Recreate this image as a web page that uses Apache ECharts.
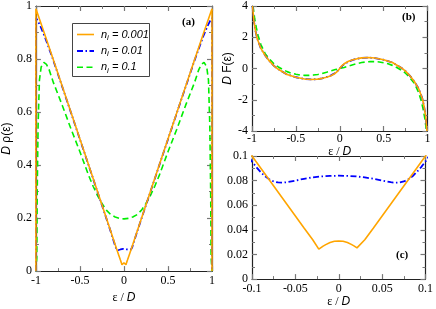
<!DOCTYPE html>
<html><head><meta charset="utf-8">
<script src="https://cdn.jsdelivr.net/npm/echarts@6/dist/echarts.min.js"></script>
<style>html,body{margin:0;padding:0;background:#fff}#c{width:436px;height:309px}</style>
</head><body><div id="c"></div>
<script>
// ---------- data ----------
const seriesNames = ['n_i = 0.001', 'n_i = 0.01', 'n_i = 0.1'];
const legendValues = ['0.001', '0.01', '0.1'];
const colors = ['#ffa500', '#0000ff', '#00ee00'];

// Panel (a)/(c): D rho(eps)
const epsO = [-1, -1, -0.9, -0.8, -0.6, -0.4, -0.2, -0.1, -0.08, -0.06, -0.04, -0.03, -0.023, -0.021, -0.018, -0.015, -0.01, -0.005, 0,
  0.005, 0.01, 0.015, 0.018, 0.021, 0.023, 0.03, 0.04, 0.06, 0.08, 0.1, 0.2, 0.4, 0.6, 0.8, 0.9, 1, 1];
const rhoO = [0, 0.99, 0.893, 0.795, 0.597, 0.399, 0.2, 0.1, 0.0805, 0.061, 0.0415, 0.032, 0.0243, 0.0254, 0.0268, 0.028, 0.0297, 0.0307, 0.031,
  0.0307, 0.0297, 0.028, 0.0268, 0.0254, 0.0243, 0.032, 0.0415, 0.061, 0.0805, 0.1, 0.2, 0.399, 0.597, 0.795, 0.893, 0.99, 0];

const epsB = [-1, -1, -0.98, -0.95, -0.9, -0.8, -0.6, -0.4, -0.2, -0.15, -0.1, -0.095, -0.09, -0.085, -0.08, -0.075, -0.07, -0.065, -0.06, -0.05, -0.04, -0.03, -0.02, -0.01, 0,
  0.01, 0.02, 0.03, 0.04, 0.05, 0.06, 0.065, 0.07, 0.075, 0.08, 0.085, 0.09, 0.095, 0.1, 0.15, 0.2, 0.4, 0.6, 0.8, 0.9, 0.95, 0.98, 1, 1];
const rhoB = [0, 0.955, 0.945, 0.925, 0.885, 0.793, 0.596, 0.398, 0.199, 0.149, 0.0955, 0.091, 0.087, 0.0835, 0.081, 0.0793, 0.0785, 0.0783, 0.0787, 0.08, 0.0815, 0.0826, 0.0834, 0.0838, 0.084,
  0.0838, 0.0834, 0.0826, 0.0815, 0.08, 0.0787, 0.0783, 0.0785, 0.0793, 0.081, 0.0835, 0.087, 0.091, 0.0955, 0.149, 0.199, 0.398, 0.596, 0.793, 0.885, 0.925, 0.945, 0.955, 0];

const epsG = [-1, -0.99, -0.985, -0.975, -0.96, -0.94, -0.91, -0.88, -0.85, -0.8, -0.7, -0.6, -0.5, -0.4, -0.35, -0.3, -0.25, -0.2, -0.15, -0.1, -0.05, 0,
  0.05, 0.1, 0.15, 0.2, 0.25, 0.3, 0.35, 0.4, 0.5, 0.6, 0.7, 0.8, 0.85, 0.88, 0.91, 0.94, 0.96, 0.975, 0.985, 0.99, 1];
const rhoG = [0, 0.05, 0.3, 0.55, 0.72, 0.77, 0.787, 0.78, 0.76, 0.71, 0.625, 0.535, 0.45, 0.36, 0.32, 0.285, 0.255, 0.23, 0.213, 0.204, 0.199, 0.197,
  0.199, 0.204, 0.213, 0.23, 0.255, 0.285, 0.32, 0.36, 0.45, 0.535, 0.625, 0.71, 0.76, 0.78, 0.787, 0.77, 0.72, 0.55, 0.3, 0.05, 0];

// Panel (b): D F(eps)
const epsF = [-0.993, -0.98, -0.96, -0.94, -0.92, -0.9, -0.85, -0.8, -0.75, -0.7, -0.6, -0.5, -0.4, -0.33, -0.25, -0.2, -0.15, -0.1, -0.05, -0.02, 0,
  0.02, 0.05, 0.1, 0.15, 0.2, 0.25, 0.33, 0.4, 0.5, 0.6, 0.7, 0.75, 0.8, 0.85, 0.9, 0.92, 0.94, 0.96, 0.98, 0.993];
const FO = [4.0, 3.1, 2.4, 1.9, 1.6, 1.3, 0.83, 0.47, 0.17, -0.05, -0.38, -0.56, -0.67, -0.7, -0.68, -0.63, -0.56, -0.46, -0.3, -0.15, 0,
  0.15, 0.3, 0.46, 0.56, 0.63, 0.68, 0.7, 0.67, 0.56, 0.38, 0.05, -0.17, -0.47, -0.83, -1.3, -1.6, -1.9, -2.4, -3.1, -4.0];
const FB = [4.0, 3.1, 2.4, 1.9, 1.6, 1.3, 0.83, 0.47, 0.17, -0.05, -0.38, -0.56, -0.67, -0.7, -0.68, -0.63, -0.55, -0.44, -0.28, -0.12, 0,
  0.12, 0.28, 0.44, 0.55, 0.63, 0.68, 0.7, 0.67, 0.56, 0.38, 0.05, -0.17, -0.47, -0.83, -1.3, -1.6, -1.9, -2.4, -3.1, -4.0];
const epsGF = [-0.988, -0.97, -0.95, -0.93, -0.9, -0.85, -0.8, -0.75, -0.7, -0.65, -0.6, -0.55, -0.5, -0.45, -0.4, -0.35, -0.3, -0.25, -0.2, -0.15, -0.1, -0.05, 0,
  0.05, 0.1, 0.15, 0.2, 0.25, 0.3, 0.35, 0.4, 0.45, 0.5, 0.55, 0.6, 0.65, 0.7, 0.75, 0.8, 0.85, 0.9, 0.93, 0.95, 0.97, 0.988];
const FG = [4.0, 3.2, 2.6, 2.1, 1.55, 0.95, 0.6, 0.3, 0.1, -0.06, -0.2, -0.3, -0.37, -0.42, -0.44, -0.44, -0.42, -0.38, -0.32, -0.24, -0.15, -0.07, 0,
  0.07, 0.15, 0.24, 0.32, 0.38, 0.42, 0.44, 0.44, 0.42, 0.37, 0.3, 0.2, 0.06, -0.1, -0.3, -0.6, -0.95, -1.55, -2.1, -2.6, -3.2, -4.0];

// ---------- chart ----------
const zip = (xs, ys) => xs.map((x, i) => [x, ys[i]]);
const serif = 'Liberation Serif';
const sans = 'Liberation Sans';
const lineStyles = [
  {width: 1.6, type: 'solid'},
  {width: 1.8, type: [6, 2.5, 1.5, 2.5]},
  {width: 1.6, type: [6, 3.5]}
];

const grids = [
  {left: 33, top: 6, width: 179, height: 277},
  {left: 252, top: 5, width: 175.5, height: 126},
  {left: 252, top: 156, width: 176, height: 127}
];
const xr = [[-1, 1, 0.5], [-1, 1, 0.5], [-0.1, 0.1, 0.05]];
const yr = [[0, 1, 0.2], [-4, 4, 2], [0, 0.1, 0.02]];

const nameRich = {
  e: {fontFamily: serif, fontSize: 12, color: '#000'},
  d: {fontFamily: sans, fontStyle: 'italic', fontSize: 12, color: '#000'},
  s: {fontFamily: sans, fontSize: 12, color: '#000'}
};

const xAxes = [], yAxes = [];
grids.forEach((g, gi) => {
  const base = {
    gridIndex: gi, type: 'value',
    axisLine: {show: true, onZero: false, lineStyle: {color: '#222', width: 1.2}},
    axisTick: {show: true, inside: true, length: 5, lineStyle: {color: '#777', width: 1.2}},
    minorTick: {show: true, splitNumber: 2, length: 3, lineStyle: {color: '#777', width: 1}},
    splitLine: {show: false}
  };
  xAxes.push(Object.assign({}, base, {
    position: 'bottom', min: xr[gi][0], max: xr[gi][1], interval: xr[gi][2],
    axisLabel: {show: true, margin: gi === 1 ? 2 : 4, fontFamily: serif, fontSize: 12, color: '#000'},
    name: '{e|ε / }{d|D}', nameLocation: 'middle', nameGap: gi === 1 ? 5 : 14,
    nameTextStyle: {rich: nameRich}
  }));
  xAxes.push(Object.assign({}, base, {
    position: 'top', min: xr[gi][0], max: xr[gi][1], interval: xr[gi][2],
    axisLabel: {show: false}
  }));
  const yName = gi === 0 ? '{d|D}{s| ρ(ε)}' : (gi === 1 ? '{d|D}{s| F(ε)}' : '');
  yAxes.push(Object.assign({}, base, {
    position: 'left', min: yr[gi][0], max: yr[gi][1], interval: yr[gi][2],
    axisLabel: {show: true, margin: 4, fontFamily: serif, fontSize: 12, color: '#000'},
    name: yName, nameLocation: 'middle', nameGap: gi === 0 ? 21 : 17,
    nameTextStyle: {rich: nameRich}
  }));
  yAxes.push(Object.assign({}, base, {
    position: 'right', min: yr[gi][0], max: yr[gi][1], interval: yr[gi][2],
    axisLabel: {show: false}
  }));
});

const series = [];
function addSeries(gi, idx, data) {
  series.push({
    name: seriesNames[idx], type: 'line', xAxisIndex: gi * 2, yAxisIndex: gi * 2,
    data: data, showSymbol: false, symbol: 'none', clip: true, smooth: false,
    lineStyle: Object.assign({color: colors[idx]}, lineStyles[idx]),
    itemStyle: {color: colors[idx]}, animation: false, z: 10 - idx
  });
}
// panel a
addSeries(0, 2, zip(epsG, rhoG));
addSeries(0, 0, zip(epsO, rhoO));
addSeries(0, 1, zip(epsB, rhoB));
// panel b
addSeries(1, 2, zip(epsGF, FG));
addSeries(1, 0, zip(epsF, FO));
addSeries(1, 1, zip(epsF, FB));
// panel c
addSeries(2, 0, zip(epsO, rhoO));
addSeries(2, 1, zip(epsB, rhoB));

// legend drawn as graphic (line samples + rich text)
const legRich = {
  n: {fontFamily: sans, fontStyle: 'italic', fontSize: 11, fill: '#000', lineHeight: 14, verticalAlign: 'middle'},
  s: {fontFamily: sans, fontStyle: 'italic', fontSize: 8, fill: '#000', lineHeight: 14, verticalAlign: 'bottom', padding: [6, 0, 0, 0]}
};
const legendGraphic = [{type: 'rect', shape: {x: 72.5, y: 23.5, width: 77, height: 53}, style: {fill: '#fff', stroke: '#444', lineWidth: 1}, z: 100}];
const legY = [34.5, 51, 67.3];
legendValues.forEach((v, i) => {
  legendGraphic.push({type: 'line', shape: {x1: 77, y1: legY[i], x2: 94, y2: legY[i]},
    style: {stroke: colors[i], lineWidth: lineStyles[i].width, lineDash: lineStyles[i].type === 'solid' ? null : lineStyles[i].type}, z: 101});
  legendGraphic.push({type: 'text', x: 101, y: legY[i], z: 101,
    style: {text: '{n|n}{s|i}{n| = ' + v + '}', rich: legRich, verticalAlign: 'middle', align: 'left'}});
});

const chart = echarts.init(document.getElementById('c'), null, {renderer: 'canvas'});
chart.setOption({
  animation: false,
  grid: grids,
  xAxis: xAxes,
  yAxis: yAxes,
  series: series,
  graphic: legendGraphic.concat([
    {type: 'text', left: 182, top: 17, z: 101, style: {text: '(a)', font: 'bold 11px "Liberation Serif"', fill: '#000'}},
    {type: 'text', left: 402, top: 12, z: 101, style: {text: '(b)', font: 'bold 11px "Liberation Serif"', fill: '#000'}},
    {type: 'text', left: 396, top: 250, z: 101, style: {text: '(c)', font: 'bold 11px "Liberation Serif"', fill: '#000'}}
  ])
});
</script></body></html>
